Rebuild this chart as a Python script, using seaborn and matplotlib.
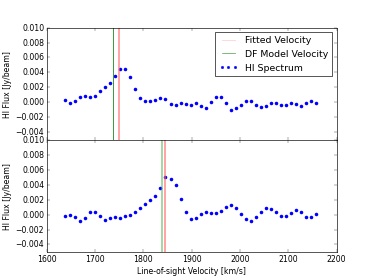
import matplotlib
matplotlib.use("Agg")
import matplotlib.pyplot as plt
from matplotlib.lines import Line2D
import seaborn as sns
import pandas as pd

velocity = [1637.8, 1648.2, 1658.6, 1669.0, 1679.4, 1689.8, 1700.2, 1710.6, 1721.0, 1731.4,
            1741.8, 1752.2, 1762.6, 1773.0, 1783.4, 1793.8, 1804.2, 1814.6, 1825.0, 1835.4,
            1845.8, 1856.2, 1866.6, 1877.0, 1887.4, 1897.8, 1908.2, 1918.6, 1929.0, 1939.4,
            1949.8, 1960.2, 1970.6, 1981.0, 1991.4, 2001.8, 2012.2, 2022.6, 2033.0, 2043.4,
            2053.8, 2064.2, 2074.6, 2085.0, 2095.4, 2105.8, 2116.2, 2126.6, 2137.0, 2147.4,
            2157.8]

flux_top = [0.00025, -0.0001, 0.0002, 0.0007, 0.0008, 0.00072, 0.00086, 0.00148, 0.00202, 0.00256,
            0.00354, 0.00444, 0.00449, 0.00345, 0.00175, 0.00059, 0.00014, 0.00014, 0.00032, 0.00063,
            0.0005, -0.00026, -0.0004, -0.0001, -0.00026, -0.0003, -0.00004, -0.00049, -0.00076, 0.0,
            0.00072, 0.00072, -0.00013, -0.00103, -0.0008, -0.00035, 0.00014, 0.00018, -0.00035, -0.00067,
            -0.00044, -0.00013, -0.00009, -0.0003, -0.0003, -0.00013, -0.00026, -0.00053, -0.00013, 0.00014,
            -0.00009]

flux_bot = [-0.00022, -0.00004, -0.00031, -0.0009, -0.00049, 0.0004, 0.00036, -0.00022, -0.00072, -0.00045,
            -0.00027, -0.00045, -0.00022, -0.00004, 0.00036, 0.00094, 0.00144, 0.00188, 0.00251, 0.00359,
            0.00498, 0.00476, 0.0039, 0.00211, 0.0003, -0.00054, -0.0004, 0.00004, 0.00031, 0.00027,
            0.00027, 0.00045, 0.00103, 0.0013, 0.0009, 0.00004, -0.00054, -0.00081, -0.00036, 0.0004,
            0.00081, 0.00072, 0.00036, -0.00018, -0.00018, 0.00022, 0.00067, 0.0004, -0.00027, -0.00027,
            0.00004]

fitted_v = [1750.2, 1844.0]
model_v = [1737.8, 1838.6]
yticks = [-0.004, -0.002, 0.0, 0.002, 0.004, 0.006, 0.008, 0.010]

plt.style.use('classic')
df = pd.DataFrame({'v': velocity, 'top': flux_top, 'bot': flux_bot})

fig, axes = plt.subplots(2, 1, sharex=True, figsize=(8, 6))
fig.subplots_adjust(hspace=0)

for i, (ax, col) in enumerate(zip(axes, ['top', 'bot'])):
    ax.axvline(fitted_v[i], color='#ff6666', lw=3, alpha=0.6)
    if i == 0:
        ax.axvline(model_v[i], color='#3c963c', lw=1.5)
    else:
        ax.axvline(model_v[i], color='#4caf4c', lw=3, alpha=0.5)
    sns.scatterplot(data=df, x='v', y=col, ax=ax, color='blue', s=30,
                    linewidth=0, legend=False)
    ax.set_yticks(yticks)
    ax.set_ylim(-0.005, 0.0100001)
    ax.set_ylabel('HI Flux [Jy/beam]')
    ax.set_xlabel('')

handles = [Line2D([], [], color='red', alpha=0.15, lw=1.5),
           Line2D([], [], color='#3c963c', lw=1),
           Line2D([], [], color='blue', marker='o', ls='', ms=4, mec='blue')]
axes[0].legend(handles, ['Fitted Velocity', 'DF Model Velocity', 'HI Spectrum'],
               loc='upper right', numpoints=3)
axes[1].set_xlim(1600, 2200)
axes[1].set_xlabel('Line-of-sight Velocity [km/s]')
for lab in axes[0].get_xticklabels():
    lab.set_visible(False)

fig.savefig('out.png', dpi=46.75, facecolor='white')
